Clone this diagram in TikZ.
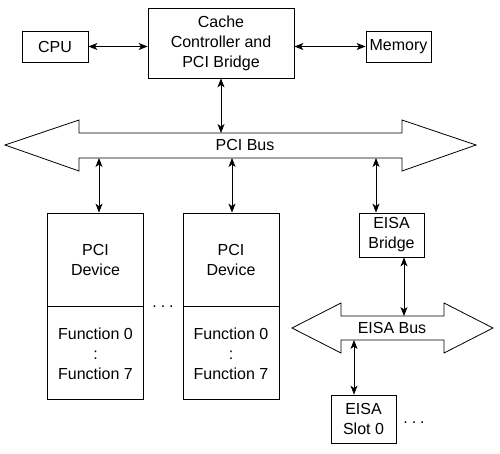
\documentclass[tikz,border=0pt]{standalone}
\usepackage{fontspec}
\setmainfont{Liberation Sans}
\usetikzlibrary{arrows.meta}
\begin{document}
\begin{tikzpicture}[x=1pt,y=-1pt,font=\fontsize{16}{20}\selectfont,
  >={Stealth[length=9pt,width=7pt,inset=2.5pt]},
  box/.style={draw,line width=0.8pt,align=center,inner sep=0pt},
  link/.style={<->,line width=0.8pt},
  bus/.style={draw,line width=0.8pt,fill=white}]
  \useasboundingbox (0,0) rectangle (500,453);
  % top row
  \node[box,minimum width=66,minimum height=31] (cpu) at (55,46.5) {CPU};
  \node[box,minimum width=146,minimum height=70] (cache) at (221,43) {Cache\\Controller and\\PCI Bridge};
  \node[box,minimum width=65,minimum height=31] (mem) at (398.5,46.5) {Memory};
  \draw[link] (cpu.east) -- (cpu.east -| cache.west);
  \draw[link] (mem.west -| cache.east) -- (mem.west);
  % PCI bus
  \draw[bus] (5,145) -- (79,120) -- (79,133) -- (402,133) -- (402,120) -- (476,145)
    -- (402,171) -- (402,158) -- (79,158) -- (79,171) -- cycle;
  \node (pcibus) at (245,145) {PCI Bus};
  \coordinate (pcitop) at (0,133);
  \coordinate (pcibot) at (0,158);
  \draw[link] (cache.south) -- (cache.south |- pcitop);
  % PCI devices
  \node[box,minimum width=96,minimum height=93] (dev1) at (95.5,259.5) {PCI\\Device};
  \node[box,minimum width=96,minimum height=93,anchor=north] (fun1) at (dev1.south) {Function 0\\:\\Function 7};
  \node[box,minimum width=96,minimum height=93] (dev2) at (231,259.5) {PCI\\Device};
  \node[box,minimum width=96,minimum height=93,anchor=north] (fun2) at (dev2.south) {Function 0\\:\\Function 7};
  \node[anchor=base] (devdots) at (163,307) {.\hspace{4pt}.\hspace{4pt}.};
  \draw[link] ([xshift=3.5]dev1.north |- pcibot) -- ([xshift=3.5]dev1.north);
  \draw[link] ([xshift=1]dev2.north |- pcibot) -- ([xshift=1]dev2.north);
  % EISA side
  \node[box,minimum width=65,minimum height=44] (bridge) at (391.5,235) {EISA\\Bridge};
  \draw[link] ([xshift=-15.5]bridge.north |- pcibot) -- ([xshift=-15.5]bridge.north);
  \draw[bus] (292,328) -- (341,303) -- (341,316) -- (444,316) -- (444,303) -- (493,328)
    -- (444,353) -- (444,340) -- (341,340) -- (341,353) -- cycle;
  \node (eisabus) at (392,328) {EISA Bus};
  \coordinate (eisatop) at (0,316);
  \coordinate (eisabot) at (0,340);
  \draw[link] ([xshift=12.5]bridge.south) -- ([xshift=12.5]bridge.south |- eisatop);
  \node[box,minimum width=65,minimum height=48] (slot) at (363.5,419) {EISA\\Slot 0};
  \draw[link] ([xshift=-9.5]slot.north |- eisabot) -- ([xshift=-9.5]slot.north);
  \node[anchor=base] (slotdots) at (414,423) {.\hspace{4pt}.\hspace{4pt}.};
\end{tikzpicture}
\end{document}
